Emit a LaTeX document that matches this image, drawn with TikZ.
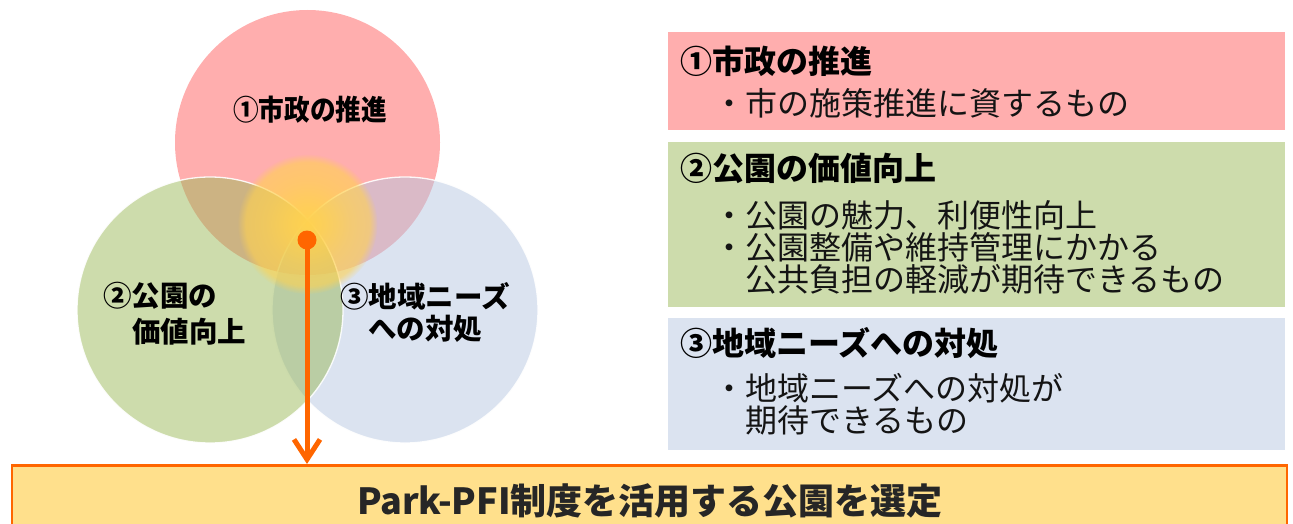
\documentclass[tikz,border=0pt]{standalone}
\usepackage{fontspec}
\setmainfont{Noto Sans CJK JP}
\usetikzlibrary{arrows.meta,fadings}
\definecolor{pinkc}{RGB}{255,174,174}
\definecolor{greenbox}{RGB}{205,220,172}
\definecolor{bluebox}{RGB}{219,227,240}
\definecolor{greenc}{RGB}{155,185,89}
\definecolor{bluec}{RGB}{183,199,225}
\definecolor{glowc}{RGB}{255,210,80}
\definecolor{orangec}{RGB}{255,102,0}
\definecolor{selfill}{RGB}{255,224,140}
\definecolor{seltext}{RGB}{38,38,38}
\definecolor{bodytext}{RGB}{20,20,20}
\pgfdeclareradialshading{glowshade}{\pgfpointorigin}{%
  color(0bp)=(white); color(6bp)=(white!90!black); color(15bp)=(white!70!black);
  color(22bp)=(white!60!black); color(25bp)=(black); color(50bp)=(black)}
\pgfdeclarefading{glowfade}{\pgfuseshading{glowshade}}
\tikzset{
  rbox/.style={minimum width=617, inner sep=0, draw=none},
  ttl/.style={font=\bfseries\fontsize{32}{32}\selectfont, anchor=west, inner sep=0, text=black},
  bdy/.style={font=\fontsize{32}{32}\selectfont, anchor=west, align=left, inner sep=0, text=bodytext},
  clab/.style={font=\bfseries\fontsize{28.5}{32}\selectfont, inner sep=0, text=black},
  vcircle/.style={fill opacity=0.5, draw=white, draw opacity=0.9, line width=1.3}
}
\begin{document}
\begin{tikzpicture}[x=1pt,y=-1pt]
\useasboundingbox (0,0) rectangle (1293,524);
\clip (0,0) rectangle (1293,524);
% Venn circles
\fill[pinkc] (307.5,142.5) circle (132.5);
\filldraw[vcircle, fill=bluec] (405,310) circle (133);
\filldraw[vcircle, fill=greenc] (210,310) circle (133);
% glow
\fill[glowc, path fading=glowfade] (307.5,224) circle (70);
% labels in circles
\node[clab] (l1) at (310,110) {\scalebox{0.9}[1]{①市政の推進}};
\node[clab, anchor=west] (l2a) at (103,296) {②公園の};
\node[clab, anchor=west] (l2b) at (132,332) {価値向上};
\node[clab, align=center] (l3) at (425,312) {③地域ニーズ\\への対処};
% bottom box
\node[draw=orangec, line width=2.5, fill=selfill, minimum width=1275, minimum height=90, anchor=north, inner sep=0] (sel) at (649.5,464) {};
\node[font=\bfseries\fontsize{36}{36}\selectfont, text=seltext, inner sep=0] (seltxt) at (650,501) {Park-PFI制度を活用する公園を選定};
% dot and arrow
\node[circle, fill=orangec, inner sep=0, minimum size=19] (dot) at (307,240) {};
\draw[orangec, line width=5, -{Straight Barb[length=20pt,width=26pt]}] (dot.center) -- (dot.center |- sel.north);
% right boxes
\node[rbox, fill=pinkc, minimum height=98] (b1) at (976.5,81) {};
\node[rbox, fill=greenbox, minimum height=165] (b2) at (976.5,224.5) {};
\node[rbox, fill=bluebox, minimum height=132] (b3) at (976.5,383.5) {};
\node[ttl] (t1) at (680,61) {①市政の推進};
\node[bdy] (d1) at (713,103) {・市の施策推進に資するもの};
\node[ttl] (t2) at (680,168) {②公園の価値向上};
\node[bdy] (d2) at (713,247) {・公園の魅力、利便性向上\\・公園整備や維持管理にかかる\\\phantom{・}公共負担の軽減が期待できるもの};
\node[ttl] (t3) at (680,343) {③地域ニーズへの対処};
\node[bdy] (d3) at (713,404) {・地域ニーズへの対処が\\\phantom{・}期待できるもの};
\end{tikzpicture}
\end{document}
